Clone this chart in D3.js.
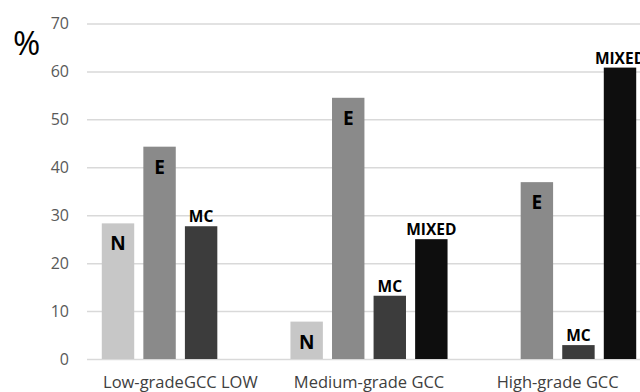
<!DOCTYPE html>
<html>
<head>
<meta charset="utf-8">
<script src="https://cdn.jsdelivr.net/npm/d3@7"></script>
<style>
  html, body { margin: 0; padding: 0; background: #fff; }
  svg { display: block; }
</style>
</head>
<body>
<svg id="chart" width="640" height="392"></svg>
<script>
const categories = ["Low-gradeGCC LOW", "Medium-grade GCC", "High-grade GCC"];
const series = ["N", "E", "MC", "MIXED"];
const valuesN = [28.3, 7.8, 0];
const valuesE = [44.3, 54.5, 36.9];
const valuesMC = [27.7, 13.2, 2.9];
const valuesMIXED = [0, 25.0, 60.8];
const yTicks = [0, 10, 20, 30, 40, 50, 60, 70];

(function () {
const seriesValues = { N: valuesN, E: valuesE, MC: valuesMC, MIXED: valuesMIXED };
const colors = { N: "#c7c7c7", E: "#8a8a8a", MC: "#3c3c3c", MIXED: "#0e0e0e" };
const insideLabel = { N: true, E: true, MC: false, MIXED: false };

const svg = d3.select("#chart");
const mLeft = 86, mRight = 652, mTop = 23.5, mBottom = 359;

const x0 = d3.scaleBand().domain(categories).range([mLeft, mRight]);
const x1 = d3.scaleBand().domain(series).range([0, x0.bandwidth()])
  .paddingInner(0.22).paddingOuter(0.38);
const y = d3.scaleLinear().domain([0, 70]).range([mBottom, mTop]);

// gridlines
const grid = svg.append("g").attr("transform", `translate(${mLeft + 1},0)`)
  .call(d3.axisLeft(y).tickValues(yTicks).tickSize(-(mRight - mLeft)).tickFormat(""));
grid.select(".domain").remove();
grid.selectAll(".tick line").attr("stroke", "#d9d9d9").attr("stroke-width", 1.5);

// y tick labels
const yAxis = svg.append("g").attr("transform", `translate(${mLeft + 1},0)`)
  .call(d3.axisLeft(y).tickValues(yTicks).tickSize(0).tickPadding(18));
yAxis.select(".domain").remove();
yAxis.selectAll("text")
  .attr("font-family", "'Open Sans', sans-serif")
  .attr("font-size", 16)
  .attr("fill", "#595959");

// % label
svg.append("text").attr("x", 13).attr("y", 55)
  .attr("font-family", "'Open Sans', sans-serif")
  .attr("font-size", 33)
  .attr("fill", "#000")
  .text("%");

// bars
const data = [];
categories.forEach((c, i) => {
  series.forEach(s => data.push({ cat: c, s, v: seriesValues[s][i] }));
});

const bars = svg.append("g");
bars.selectAll("rect").data(data.filter(d => d.v > 0)).join("rect")
  .attr("x", d => x0(d.cat) + x1(d.s))
  .attr("y", d => y(d.v))
  .attr("width", x1.bandwidth())
  .attr("height", d => y(0) - y(d.v))
  .attr("fill", d => colors[d.s]);

bars.selectAll("text").data(data.filter(d => d.v > 0)).join("text")
  .attr("x", d => x0(d.cat) + x1(d.s) + x1.bandwidth() / 2)
  .attr("y", d => insideLabel[d.s] ? y(d.v) + 27 : y(d.v) - 4)
  .attr("text-anchor", "middle")
  .attr("font-family", "'Open Sans', sans-serif")
  .attr("font-weight", "bold")
  .attr("font-size", d => insideLabel[d.s] ? 19 : 15.5)
  .attr("fill", "#000")
  .text(d => d.s);

// category labels
svg.append("g").selectAll("text").data(categories).join("text")
  .attr("x", d => x0(d) + x0.bandwidth() / 2)
  .attr("y", 388)
  .attr("text-anchor", "middle")
  .attr("font-family", "'Open Sans', sans-serif")
  .attr("font-size", 16.5)
  .attr("fill", "#404040")
  .text(d => d);
})();
</script>
</body>
</html>
